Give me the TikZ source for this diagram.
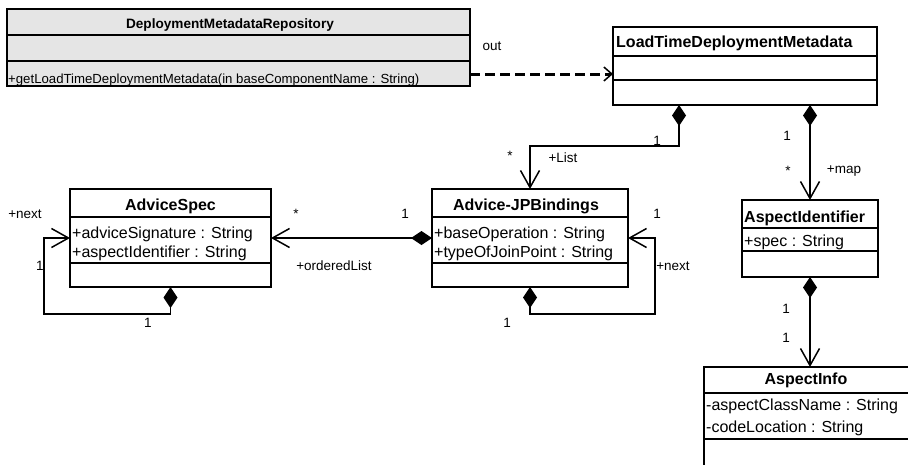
\documentclass[tikz,border=0pt]{standalone}
\usepackage{fontspec}
\setmainfont{Liberation Sans}
\usetikzlibrary{arrows.meta}

\tikzset{
  classbox/.style={draw, line width=1.5pt, fill=white, inner sep=0pt, outer sep=0pt, anchor=north west},
  sep/.style={line width=1.5pt},
  ttl/.style={font=\fontsize{16}{19}\selectfont\bfseries, inner sep=0pt, anchor=base},
  ttlw/.style={font=\fontsize{16}{19}\selectfont\bfseries, inner sep=0pt, anchor=base west},
  txt/.style={font=\fontsize{16}{19}\selectfont, inner sep=0pt, anchor=base west},
  lbl/.style={font=\fontsize{13.5}{16}\selectfont, inner sep=0pt, anchor=base},
  conn/.style={line width=1.5pt},
  comp/.style={conn, {Diamond[length=21pt,width=14pt]}-{Straight Barb[length=17pt,width=19pt]}},
  depend/.style={line width=3pt, dash pattern=on 10pt off 5pt, -{Straight Barb[length=8pt,width=14pt,line width=1.5pt]}},
}

\begin{document}
\begin{tikzpicture}[x=1pt,y=-1pt]
\useasboundingbox (0,0) rectangle (908,464);
\clip (0,0) rectangle (908,464);

% DeploymentMetadataRepository
\node[classbox, fill=gray!20, minimum width=463pt, minimum height=77pt] (dmr) at (7,9) {};
\draw[sep] (7,35) -- (470,35) (7,61) -- (470,61);
\node[lbl, font=\fontsize{13.6}{16}\selectfont\bfseries] (dmrT) at (230,28) {DeploymentMetadataRepository};
\node[txt, font=\fontsize{13.2}{16}\selectfont] (dmrM) at (8,83) {+getLoadTimeDeploymentMetadata(in baseComponentName : String)};

% LoadTimeDeploymentMetadata
\node[classbox, minimum width=264pt, minimum height=78pt] (ltdm) at (613,27) {};
\draw[sep] (613,56) -- (877,56) (613,80) -- (877,80);
\node[ttlw] (ltdmT) at (616,47) {LoadTimeDeploymentMetadata};

% AdviceSpec
\node[classbox, minimum width=201pt, minimum height=98pt] (asp) at (70,189) {};
\draw[sep] (70,217) -- (271,217) (70,263) -- (271,263);
\node[ttl] (aspT) at (170.5,210) {AdviceSpec};
\node[txt] (aspA1) at (72,238) {+adviceSignature : String};
\node[txt] (aspA2) at (72,257) {+aspectIdentifier : String};

% Advice-JPBindings
\node[classbox, minimum width=196pt, minimum height=98pt] (ajb) at (432,189) {};
\draw[sep] (432,217) -- (628,217) (432,263) -- (628,263);
\node[ttl] (ajbT) at (526,210) {Advice-JPBindings};
\node[txt] (ajbA1) at (434,238) {+baseOperation : String};
\node[txt] (ajbA2) at (434,257) {+typeOfJoinPoint : String};

% AspectIdentifier
\node[classbox, minimum width=136pt, minimum height=77pt] (aid) at (742,200) {};
\draw[sep] (742,228) -- (878,228) (742,251) -- (878,251);
\node[ttlw] (aidT) at (744,222) {AspectIdentifier};
\node[txt] (aidA) at (744,246) {+spec : String};

% AspectInfo
\node[classbox, minimum width=205pt, minimum height=110pt] (ainf) at (704,367) {};
\draw[sep] (704,393) -- (909,393) (704,439) -- (909,439);
\node[ttl] (ainfT) at (806,384) {AspectInfo};
\node[txt] (ainfA1) at (706,410) {-aspectClassName : String};
\node[txt] (ainfA2) at (706,432) {-codeLocation : String};

% dependency
\coordinate (dsrc) at ([yshift=12pt]dmr.south east);
\draw[depend] (dsrc) -- (dsrc -| ltdm.west);
\node[lbl] (lOut) at (492,50) {out};

% LoadTimeDeploymentMetadata -> Advice-JPBindings
\draw[comp] ([xshift=66pt]ltdm.south west) -- ++(0,41) -| (ajb.north);
\node[lbl] (l1a) at (657,145) {1};
\node[lbl] (l1b) at (510,160) {*};
\node[lbl] (l1c) at (563,162) {+List};

% LoadTimeDeploymentMetadata -> AspectIdentifier
\draw[comp] (aid.north |- ltdm.south) -- (aid.north);
\node[lbl] (l2a) at (787,140) {1};
\node[lbl] (l2b) at (788,175) {*};
\node[lbl] (l2c) at (844,173) {+map};

% Advice-JPBindings -> AdviceSpec
\draw[comp] (ajb.west) -- (asp.east);
\node[lbl] (l3a) at (296,218) {*};
\node[lbl] (l3b) at (405,218) {1};
\node[lbl] (l3c) at (334,270) {+orderedList};

% AdviceSpec self association
\draw[comp] (asp.south) -- ++(0,27) -| ([xshift=-26pt]asp.west) -- (asp.west);
\node[lbl] (l4a) at (25,218) {+next};
\node[lbl] (l4b) at (40,270) {1};
\node[lbl] (l4c) at (148,327) {1};

% Advice-JPBindings self association
\draw[comp] (ajb.south) -- ++(0,27) -| ([xshift=27pt]ajb.east) -- (ajb.east);
\node[lbl] (l5a) at (657,218) {1};
\node[lbl] (l5b) at (673,270) {+next};
\node[lbl] (l5c) at (507,327) {1};

% AspectIdentifier -> AspectInfo
\draw[comp] (aid.south) -- (aid.south |- ainf.north);
\node[lbl] (l6a) at (786,313) {1};
\node[lbl] (l6b) at (786,342) {1};
\end{tikzpicture}
\end{document}
